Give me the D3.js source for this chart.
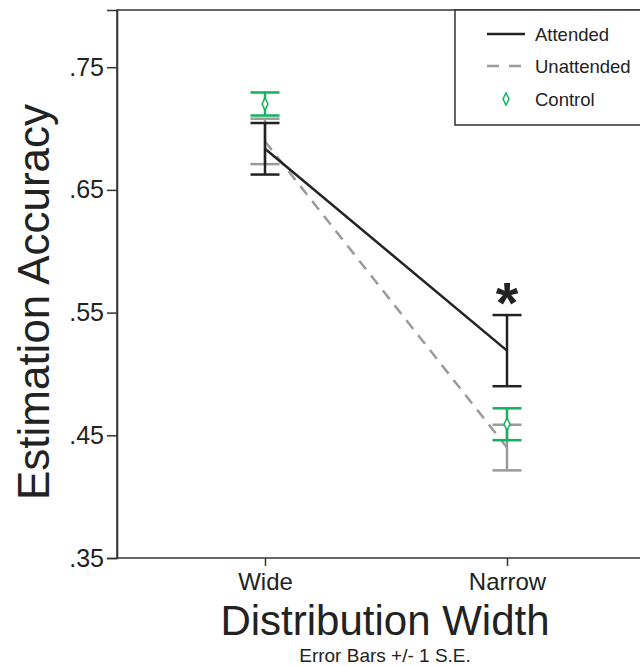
<!DOCTYPE html>
<html>
<head>
<meta charset="utf-8">
<script src="https://cdn.jsdelivr.net/npm/d3@7"></script>
<style>
  body { margin: 0; background: #fff; }
  svg { font-family: "Liberation Sans", Arial, sans-serif; }
</style>
</head>
<body>
<svg></svg>
<script>
let categories = ['Wide', 'Narrow'];
let attendedMean = [0.6835, 0.519];
let attendedSE = [0.021, 0.029];
let unattendedMean = [0.6895, 0.440];
let unattendedSE = [0.0185, 0.0186];
let controlMean = [0.720, 0.459];
let controlSE = [0.0094, 0.013];
let yTicks = [0.35, 0.45, 0.55, 0.65, 0.75];
let legendLabels = ['Attended', 'Unattended', 'Control'];

let width = 640;
let height = 666;
let plotLeft = 117, plotTop = 10, plotBottom = 558, plotRight = 641;

let black = '#222';
let gray = '#9a9a9a';
let green = '#14b25e';

let svg = d3.select('svg')
  .attr('width', width)
  .attr('height', height)

let xScale = d3.scalePoint()
  .domain(categories)
  .range([265, 507])

let yScale = d3.scaleLinear()
  .domain([0.35, 0.7966])
  .range([plotBottom, plotTop])

// frame (top + left), right edge is off the picture
svg.append('path')
  .attr('d', `M${plotRight},${plotTop} H${plotLeft} V${plotBottom}`)
  .attr('fill', 'none')
  .attr('stroke', '#333')
  .attr('stroke-width', 1.5)

let yAxis = d3.axisLeft(yScale)
  .tickValues(yTicks)
  .tickSize(10)
  .tickPadding(3)
  .tickFormat(d => d3.format('.2f')(d).replace(/^0/, ''))

svg.append('g')
  .attr('transform', `translate(${plotLeft},0)`)
  .call(yAxis)
  .call(g => g.selectAll('.tick line').attr('stroke', '#333').attr('stroke-width', 1.5))
  .call(g => g.select('.domain').attr('stroke', '#333').attr('stroke-width', 1.5))
  .call(g => g.selectAll('text').attr('font-size', 25).attr('fill', '#222').attr('font-family', 'Liberation Sans, Arial, sans-serif'))

let xAxis = d3.axisBottom(xScale)
  .tickSize(8)
  .tickPadding(7)

svg.append('g')
  .attr('transform', `translate(0,${plotBottom})`)
  .call(xAxis)
  .call(g => g.select('.domain').attr('d', `M${plotLeft},0 H${plotRight}`).attr('stroke', '#333').attr('stroke-width', 1.5))
  .call(g => g.selectAll('.tick line').attr('stroke', '#333').attr('stroke-width', 1.5))
  .call(g => g.selectAll('text').attr('font-size', 24).attr('fill', '#222').attr('font-family', 'Liberation Sans, Arial, sans-serif'))

// axis titles
svg.append('text')
  .attr('transform', `translate(49,302) rotate(-90)`)
  .attr('text-anchor', 'middle')
  .attr('font-size', 44)
  .attr('fill', '#222')
  .text('Estimation Accuracy')

svg.append('text')
  .attr('x', 385)
  .attr('y', 635)
  .attr('text-anchor', 'middle')
  .attr('font-size', 42)
  .attr('fill', '#222')
  .text('Distribution Width')

svg.append('text')
  .attr('x', 385)
  .attr('y', 661.8)
  .attr('text-anchor', 'middle')
  .attr('font-size', 19)
  .attr('fill', '#222')
  .text('Error Bars +/- 1 S.E.')

let line = d3.line()
  .x((d, i) => xScale(categories[i]))
  .y(d => yScale(d))

svg.append('path')
  .datum(unattendedMean)
  .attr('d', line)
  .attr('fill', 'none')
  .attr('stroke', gray)
  .attr('stroke-width', 2.5)
  .attr('stroke-dasharray', '11,8')

svg.append('path')
  .datum(attendedMean)
  .attr('d', line)
  .attr('fill', 'none')
  .attr('stroke', black)
  .attr('stroke-width', 2.5)

let drawErrorBars = (means, ses, color) => {
  let capW = 14.5;
  let g = svg.append('g')
    .attr('stroke', color)
    .attr('stroke-width', 2.5)
  categories.forEach((c, i) => {
    let x = xScale(c);
    let hi = yScale(means[i] + ses[i]);
    let lo = yScale(means[i] - ses[i]);
    g.append('line').attr('x1', x).attr('x2', x).attr('y1', hi).attr('y2', lo)
    g.append('line').attr('x1', x - capW).attr('x2', x + capW).attr('y1', hi).attr('y2', hi)
    g.append('line').attr('x1', x - capW).attr('x2', x + capW).attr('y1', lo).attr('y2', lo)
  })
}

drawErrorBars(unattendedMean, unattendedSE, gray)
drawErrorBars(attendedMean, attendedSE, black)
drawErrorBars(controlMean, controlSE, green)

let diamond = (cx, cy) => `M${cx},${cy - 6} L${cx + 3},${cy} L${cx},${cy + 6} L${cx - 3},${cy} Z`

svg.append('g')
  .selectAll('path')
  .data(controlMean)
  .enter()
  .append('path')
  .attr('d', (d, i) => diamond(xScale(categories[i]), yScale(d)))
  .attr('fill', '#fff')
  .attr('stroke', green)
  .attr('stroke-width', 1.5)

// significance marker
svg.append('text')
  .attr('x', xScale('Narrow'))
  .attr('y', yScale(attendedMean[1] + attendedSE[1]) + 8)
  .attr('text-anchor', 'middle')
  .attr('font-size', 58)
  .attr('font-weight', 'bold')
  .attr('fill', '#222')
  .text('*')

// legend
let legend = svg.append('g')

legend.append('rect')
  .attr('x', 455)
  .attr('y', plotTop)
  .attr('width', 200)
  .attr('height', 115)
  .attr('fill', '#fff')
  .attr('stroke', '#333')
  .attr('stroke-width', 1.5)

let legendY = [34, 66, 99];

legend.append('line')
  .attr('x1', 487).attr('x2', 525).attr('y1', legendY[0]).attr('y2', legendY[0])
  .attr('stroke', black).attr('stroke-width', 2.5)

legend.append('line')
  .attr('x1', 487).attr('x2', 525).attr('y1', legendY[1]).attr('y2', legendY[1])
  .attr('stroke', gray).attr('stroke-width', 2.5).attr('stroke-dasharray', '12,10')

legend.append('path')
  .attr('d', diamond(506, legendY[2]))
  .attr('fill', '#fff')
  .attr('stroke', green)
  .attr('stroke-width', 1.5)

legend.selectAll('text')
  .data(legendLabels)
  .enter()
  .append('text')
  .attr('x', 535)
  .attr('y', (d, i) => legendY[i] + 6.5)
  .attr('font-size', 18.5)
  .attr('fill', '#222')
  .text(d => d)
</script>
</body>
</html>
